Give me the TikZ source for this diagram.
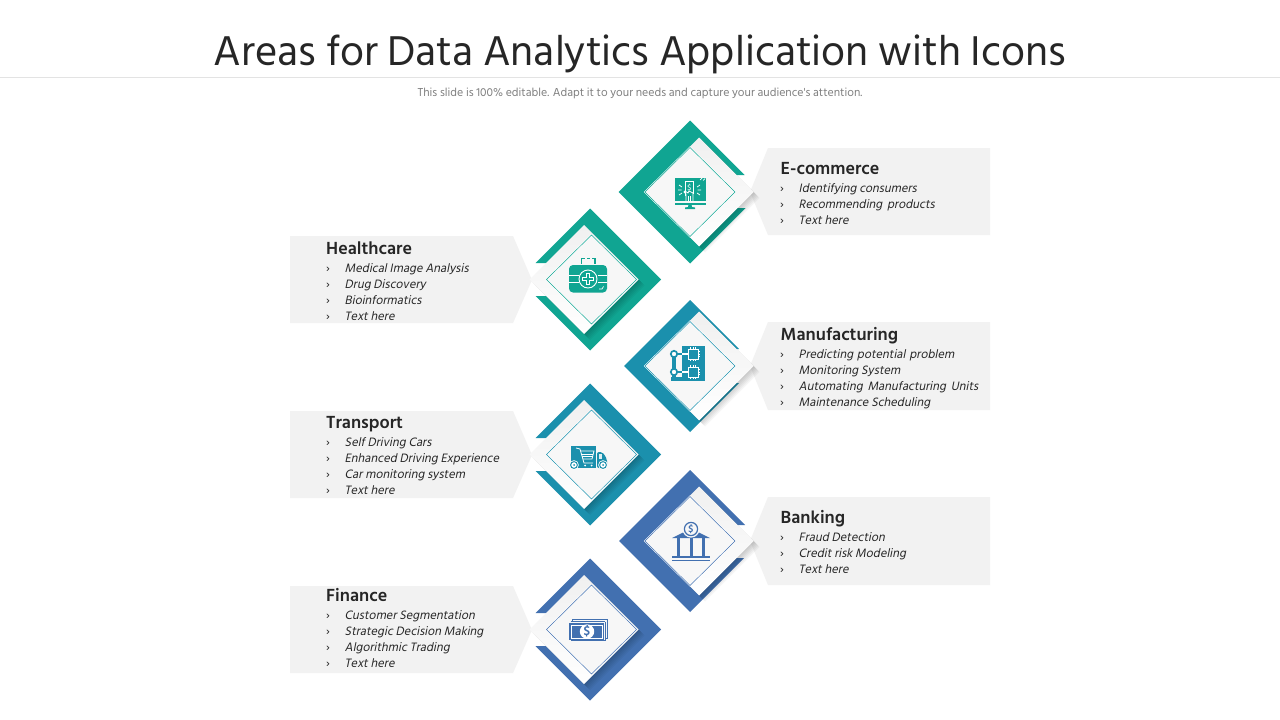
\documentclass[tikz,border=0pt]{standalone}
\usepackage{fontspec}
\newfontfamily\hind{Hind Siliguri}
\newfontfamily\hindi[FakeSlant=0.2]{Hind Siliguri}
\usetikzlibrary{calc}
\definecolor{cteal}{HTML}{10A592}
\definecolor{ccyan}{HTML}{1B90AD}
\definecolor{cblue}{HTML}{4270B0}
\definecolor{boxgray}{HTML}{F2F2F2}
\definecolor{ink}{HTML}{262626}
\tikzset{
  titletext/.style={font=\hind\fontsize{42.7}{42.7}\selectfont,text=ink,inner sep=0pt,anchor=base},
  subtext/.style={font=\hind\fontsize{11.85}{11.85}\selectfont,text=black!50,inner sep=0pt,anchor=base},
  headtext/.style={font=\hind\bfseries\fontsize{18}{18}\selectfont,text=ink,inner sep=0pt,anchor=base west},
  itemtext/.style={font=\hindi\fontsize{12.5}{12.5}\selectfont,text=ink,inner sep=0pt,anchor=base west,xshift=-0.5pt},
  marktext/.style={font=\hind\fontsize{12.6}{12.6}\selectfont,text=ink,inner sep=0pt,anchor=base west},
  iconwhite/.style={draw=white,line width=0.9pt,fill=none},
}
% #1 cx, #2 cy, #3 half, #4 side (+1 right, -1 left), #5 upper cut y, #6 lower cut y, #7 colour
\newcommand\areamark[7]{%
  \pgfmathsetmacro\cardx{#1+#4*9+(#4<0?3:0)}%
  \pgfmathsetmacro\cutA{#1+#4*(#3-(#2-#5))}%
  \pgfmathsetmacro\cutB{#1+#4*(#3-(#6-#2))}%
  \fill[#7] (#1,#2-#3) -- (\cutA,#5) -- (#1,#5) -- (#1,#6) -- (\cutB,#6) -- (#1,#2+#3) -- (#1-#4*#3,#2) -- cycle;
  \pgfmathsetmacro\innerx{#1+(#4<0?1.5:0)}%
  \pgfmathsetmacro\cardh{54.5}%
  \foreach \s in {6,5,...,1}{%
    \fill[black,opacity=0.035] (\cardx+\s,#2-\cardh+\s) -- (\cardx+\cardh+\s,#2+\s) -- (\cardx+\s,#2+\cardh+\s) -- (\cardx-\cardh+\s,#2+\s) -- cycle;
  }
  \shade[top color=black!6,bottom color=white,shading angle=0] (\cardx,#2-\cardh) -- (\cardx+\cardh,#2) -- (\cardx,#2+\cardh) -- (\cardx-\cardh,#2) -- cycle;
  \draw[white,line width=1.6pt,fill=black!3] (\innerx,#2-44.5) -- (\innerx+45,#2) -- (\innerx,#2+44.5) -- (\innerx-45,#2) -- cycle;
  \draw[#7,line width=0.5pt] (\innerx,#2-44.5) -- (\innerx+45,#2) -- (\innerx,#2+44.5) -- (\innerx-45,#2) -- cycle;
}
\begin{document}
\begin{tikzpicture}[x=1pt,y=-1pt]
\useasboundingbox (0,0) rectangle (1280,720);
\fill[white] (0,0) rectangle (1280,720);
\draw[black!11,line width=0.8pt] (0,77.5) -- (1280,77.5);
\node[titletext] (title) at (640,65) {Areas for Data Analytics Application with Icons};
\node[subtext] (subtitle) at (640,96) {This slide is 100\% editable. Adapt it to your needs and capture your audience's attention.};

% grey label boxes
\fill[boxgray] (768,148) -- (990,148) -- (990,235) -- (768,235) -- (750,192) -- cycle;
\fill[boxgray] (768,322) -- (990,322) -- (990,410) -- (768,410) -- (750,366) -- cycle;
\fill[boxgray] (768,497) -- (990,497) -- (990,585) -- (768,585) -- (750,541) -- cycle;
\fill[boxgray] (290,236) -- (513,236) -- (532,280) -- (513,323) -- (290,323) -- cycle;
\fill[boxgray] (290,411) -- (513,411) -- (532,455) -- (513,498) -- (290,498) -- cycle;
\fill[boxgray] (290,586) -- (513,586) -- (532,630) -- (513,673) -- (290,673) -- cycle;

\areamark{690}{192}{71.5}{1}{175}{208}{cteal}
\areamark{590}{279.5}{71}{-1}{263}{296}{cteal}
\areamark{690}{366}{66}{1}{349}{383}{ccyan}
\areamark{590}{454.5}{71}{-1}{438}{471}{ccyan}
\areamark{690}{541}{71}{1}{525}{558}{cblue}
\areamark{590}{629.5}{71}{-1}{613}{646}{cblue}

% e-commerce icon
\begin{scope}[shift={(690,192)}]
  \fill[cteal] (-15.5,-14) rectangle (15.5,9);
  \fill[cteal] (-15.5,10.5) rectangle (15.5,12.5);
  \fill[cteal] (-1.5,12.5) -- (1.5,12.5) -- (2,15) -- (5,15.5) -- (5,17) -- (-5,17) -- (-5,15.5) -- (-2,15) -- cycle;
  \draw[iconwhite,line width=0.8pt] (-4.5,4) -- (-4.5,-11) -- (3.5,-11) -- (3.5,2);
  \node[inner sep=0pt,text=white,font=\hind\fontsize{8}{8}\selectfont] (ecdollar) at (-0.5,-4) {\$};
  \draw[iconwhite,line width=0.8pt] (-4,9) -- (-4,2) -- (-6,0) -- (-5,-1) -- (-2,1) -- (-1,-1) -- (3,1) -- (3,9);
  \draw[iconwhite,line width=0.7pt] (-1.5,4) -- (-1.5,9) (0.8,4) -- (0.8,9);
  \draw[iconwhite,line width=0.7pt] (-11,-7) -- (-8,-5) (-12,-2) -- (-8.5,-2) (-11,3) -- (-8,1) (7,-5) -- (10,-7) (7.5,-2) -- (11,-2) (7,1) -- (10,3);
  \draw[iconwhite,line width=0.7pt] (10,-12) -- (12,-14) (13,-11.5) -- (15,-13.5);
\end{scope}

% healthcare icon
\begin{scope}[shift={(588,279)}]
  \fill[cteal,rounded corners=4pt] (-19,-14) rectangle (19,13.5);
  \draw[cteal,line width=1.1pt] (-6.5,-15.5) -- (-6.5,-20.5) -- (-3,-20.5) (-1,-20.5) -- (2,-20.5) (4,-20.5) -- (7,-20.5) -- (7,-15.5);
  \draw[iconwhite] (-19,-3.5) -- (-9.5,-3.5) (-19,3) -- (-9.5,3) (9.5,-3.5) -- (19,-3.5) (9.5,3) -- (19,3);
  \draw[iconwhite] (0,0) circle (9);
  \fill[white] (-2.4,-6.4) rectangle (2.4,6.4);
  \fill[white] (-6.4,-2.4) rectangle (6.4,2.4);
  \fill[cteal] (-1.3,-5.2) rectangle (1.3,5.2);
  \fill[cteal] (-5.2,-1.3) rectangle (5.2,1.3);
  \draw[iconwhite,line width=0.7pt] (11,10) -- (14,10) -- (15.5,7.5);
\end{scope}

% manufacturing icon
\begin{scope}[shift={(690,366)}]
  \fill[ccyan] (-8,-20) rectangle (15,15);
  \fill[ccyan] (-19,15) rectangle (-8,11);
  \fill[ccyan] (-18,-9) rectangle (-14,15);
  \fill[ccyan] (-12,-13.5) rectangle (-6,-11);
  \fill[ccyan] (-12,4.5) rectangle (-6,7);
  \draw[ccyan,line width=1.7pt,fill=white] (-16,-12) circle (3.2);
  \draw[ccyan,line width=1.7pt,fill=white] (-16,6) circle (3.2);
  \fill[white] (-8,-13.5) rectangle (-2,-11);
  \fill[white] (-8,4.5) rectangle (-2,7);
  \draw[iconwhite] (-2,-17) rectangle (8,-7);
  \draw[iconwhite] (-2,1) rectangle (8,11);
  \draw[iconwhite,line width=0.5pt] (0.5,-19) -- (0.5,-17) (3,-19) -- (3,-17) (5.5,-19) -- (5.5,-17) (0.5,-7) -- (0.5,-5) (3,-7) -- (3,-5) (5.5,-7) -- (5.5,-5)
    (8,-14.5) -- (10,-14.5) (8,-12) -- (10,-12) (8,-9.5) -- (10,-9.5)
    (0.5,-1) -- (0.5,1) (3,-1) -- (3,1) (5.5,-1) -- (5.5,1) (0.5,11) -- (0.5,13) (3,11) -- (3,13) (5.5,11) -- (5.5,13)
    (8,3.5) -- (10,3.5) (8,6) -- (10,6) (8,8.5) -- (10,8.5);
\end{scope}

% transport icon
\begin{scope}[shift={(590,455)}]
  \fill[ccyan] (-19,-9) rectangle (6,13);
  \fill[ccyan,rounded corners=2pt] (7,-3) -- (12.5,-3) -- (17,4) -- (17,13) -- (7,13) -- cycle;
  \fill[white,opacity=0.85] (9,-1) rectangle (12,4);
  \draw[iconwhite,line width=0.8pt] (-14,-7) -- (-10,-6) -- (-6,8) -- (3,8);
  \draw[iconwhite,line width=0.8pt] (-9.5,-4) -- (4,-4) -- (2,4) -- (-7,4);
  \draw[iconwhite,line width=0.6pt] (-8.5,-1.2) -- (3,-1.2) (-8,1.4) -- (2.5,1.4);
  \fill[white] (-5,10.5) circle (1);
  \fill[white] (1.5,10.5) circle (1);
  \fill[white] (-16,10) circle (4.8);
  \fill[white] (13,10) circle (4.8);
  \draw[ccyan,line width=1pt] (-16,10) circle (3.4);
  \draw[ccyan,line width=1pt] (13,10) circle (3.4);
  \fill[ccyan] (-16,10) circle (1);
  \fill[ccyan] (13,10) circle (1);
\end{scope}

% banking icon
\begin{scope}[shift={(691,541)}]
  \fill[cblue] (-19,-3) -- (-3,-11) -- (3,-11) -- (19,-3) -- cycle;
  \draw[black!3,line width=1.2pt,fill=black!3] (0,-12) circle (8);
  \draw[cblue,line width=1.2pt] (0,-12) circle (6.6);
  \node[inner sep=0pt,text=cblue,font=\hind\bfseries\fontsize{10}{10}\selectfont] (bankdollar) at (0,-12) {\$};
  \fill[cblue] (-14,-3) rectangle (-11,15);
  \fill[cblue] (-1.5,-3) rectangle (1.5,15);
  \fill[cblue] (11,-3) rectangle (14,15);
  \fill[cblue] (-19,15) rectangle (19,17);
  \fill[cblue] (-19,18.5) rectangle (19,19.6);
\end{scope}

% finance icon
\begin{scope}[shift={(587,631)}]
  \draw[cblue,line width=0.9pt] (-15,-9.5) -- (-15,-12) -- (20,-12) -- (20,7.5) -- (18,7.5);
  \draw[cblue,line width=0.9pt] (-16.5,-9.5) -- (18,-9.5);
  \draw[cblue,line width=0.9pt] (18,-9.5) -- (18,9.5) -- (-16,9.5);
  \fill[cblue] (-18,-8) rectangle (17,9);
  \draw[white,line width=0.7pt] (-16,-6) rectangle (15,7);
  \fill[white] (0,0.5) circle (7.2);
  \node[inner sep=0pt,text=cblue,font=\hind\bfseries\fontsize{13}{13}\selectfont] (monydollar) at (0,0.5) {\$};
\end{scope}

% texts
\node[headtext] (h1) at (780.5,174) {E-commerce};
\node[marktext] (m1a) at (780,192) {›}; \node[itemtext] (t1a) at (799,192) {Identifying consumers};
\node[marktext] (m1b) at (780,208) {›}; \node[itemtext] (t1b) at (799,208) {Recommending\hspace{2pt} products};
\node[marktext] (m1c) at (780,224) {›}; \node[itemtext] (t1c) at (799,224) {Text here};

\node[headtext] (h2) at (780.5,340) {Manufacturing};
\node[marktext] (m2a) at (780,358) {›}; \node[itemtext] (t2a) at (799,358) {Predicting\hspace{1pt} potential\hspace{1pt} problem};
\node[marktext] (m2b) at (780,374) {›}; \node[itemtext] (t2b) at (799,374) {Monitoring System};
\node[marktext] (m2c) at (780,390) {›}; \node[itemtext] (t2c) at (799,390) {Automating\hspace{2pt} Manufacturing\hspace{2pt} Units};
\node[marktext] (m2d) at (780,406) {›}; \node[itemtext] (t2d) at (799,406) {Maintenance Scheduling};

\node[headtext] (h3) at (780.5,523) {Banking};
\node[marktext] (m3a) at (780,541) {›}; \node[itemtext] (t3a) at (799,541) {Fraud Detection};
\node[marktext] (m3b) at (780,557) {›}; \node[itemtext] (t3b) at (799,557) {Credit risk Modeling};
\node[marktext] (m3c) at (780,573) {›}; \node[itemtext] (t3c) at (799,573) {Text here};

\node[headtext] (h4) at (326,254) {Healthcare};
\node[marktext] (m4a) at (326,272) {›}; \node[itemtext] (t4a) at (345,272) {Medical Image Analysis};
\node[marktext] (m4b) at (326,288) {›}; \node[itemtext] (t4b) at (345,288) {Drug Discovery};
\node[marktext] (m4c) at (326,304) {›}; \node[itemtext] (t4c) at (345,304) {Bioinformatics};
\node[marktext] (m4d) at (326,320) {›}; \node[itemtext] (t4d) at (345,320) {Text here};

\node[headtext] (h5) at (326,428) {Transport};
\node[marktext] (m5a) at (326,446) {›}; \node[itemtext] (t5a) at (345,446) {Self Driving Cars};
\node[marktext] (m5b) at (326,462) {›}; \node[itemtext] (t5b) at (345,462) {Enhanced Driving Experience};
\node[marktext] (m5c) at (326,478) {›}; \node[itemtext] (t5c) at (345,478) {Car monitoring system};
\node[marktext] (m5d) at (326,494) {›}; \node[itemtext] (t5d) at (345,494) {Text here};

\node[headtext] (h6) at (326,601) {Finance};
\node[marktext] (m6a) at (326,619) {›}; \node[itemtext] (t6a) at (345,619) {Customer Segmentation};
\node[marktext] (m6b) at (326,635) {›}; \node[itemtext] (t6b) at (345,635) {Strategic Decision Making};
\node[marktext] (m6c) at (326,651) {›}; \node[itemtext] (t6c) at (345,651) {Algorithmic Trading};
\node[marktext] (m6d) at (326,667) {›}; \node[itemtext] (t6d) at (345,667) {Text here};
\end{tikzpicture}
\end{document}
